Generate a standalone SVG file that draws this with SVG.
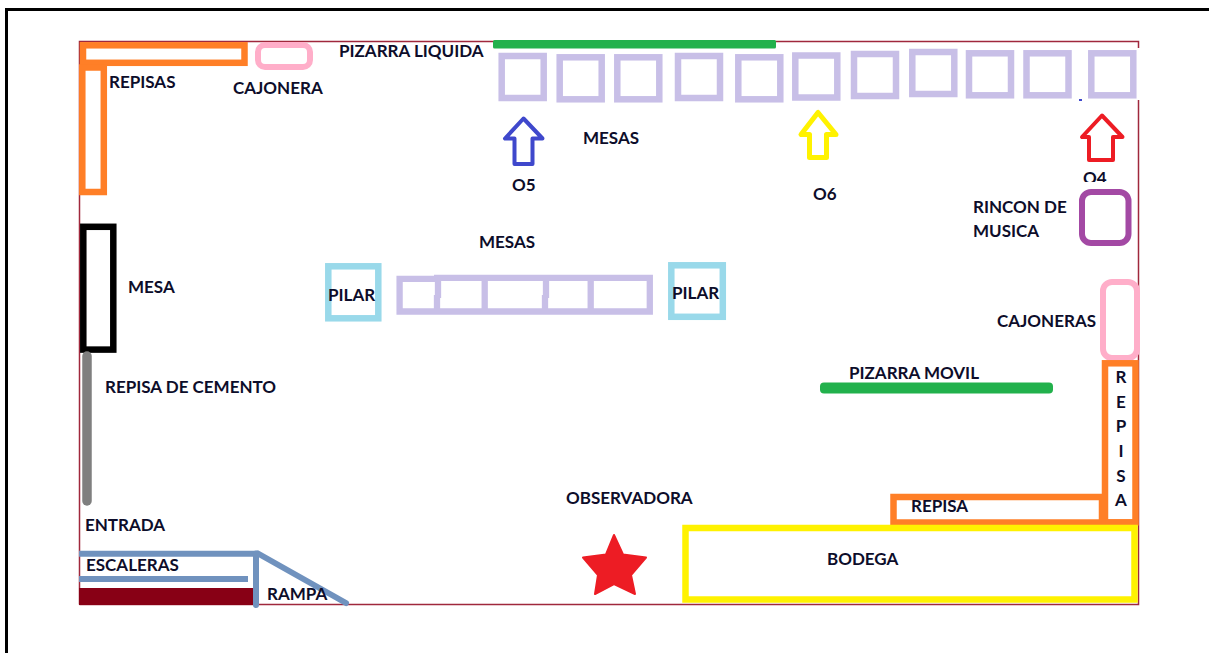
<svg xmlns="http://www.w3.org/2000/svg" width="1209" height="653" viewBox="0 0 1209 653">
<style>
text{font-family:Lato,"Liberation Sans",sans-serif;font-weight:700;font-size:17px;fill:#0d0d2a}
.o{fill:none;stroke:#ff7f27;stroke-width:6.5}
.m{fill:none;stroke:#c8bfe7;stroke-width:6.5}
.c{fill:none;stroke:#99d9ea;stroke-width:6.5}
.p{fill:none;stroke:#ffaec9;stroke-width:6}
.b{fill:none;stroke:#7092be;stroke-width:6}
.r{stroke-linecap:round}
.a{fill:none;stroke-linejoin:round}
</style>
<defs><clipPath id="clipO4"><rect x="1070" y="165" width="50" height="17"/></clipPath></defs>
<rect width="1209" height="653" fill="#fff"/>
<g id="frame"><path d="M1209 9.500H6.500V653" fill="none" stroke="#000" stroke-width="3"/></g>
<g id="room"><path d="M79.500 604.500V41.500H1138.500V48M1138.500 100V604.500H79.500" fill="none" stroke="#a0283c" stroke-width="1.500"/></g>
<g id="repisas"><rect class="o" x="83" y="45.300" width="161.500" height="17.500"/><rect class="o" x="82.300" y="67.500" width="21.500" height="124.500"/><text x="109" y="88">REPISAS</text></g>
<g id="cajonera"><rect class="p" x="258" y="45" width="52" height="22" rx="7"/><text x="233" y="94">CAJONERA</text></g>
<g id="pizarra-liquida"><rect x="493" y="40" width="283" height="8.500" rx="1.500" fill="#22b14c"/><text x="339" y="57">PIZARRA LIQUIDA</text></g>
<g id="mesas-top">
<rect class="m" x="501.700" y="56" width="42" height="42"/><rect class="m" x="559.700" y="57.300" width="42" height="42"/><rect class="m" x="617.300" y="57.300" width="42" height="42"/><rect class="m" x="678" y="56" width="42" height="42"/><rect class="m" x="738.300" y="57.300" width="42" height="42"/><rect class="m" x="795.300" y="55.500" width="42" height="42"/><rect class="m" x="854" y="54" width="42" height="42"/><rect class="m" x="912.300" y="52" width="42" height="42"/><rect class="m" x="969" y="53.300" width="42" height="42"/><rect class="m" x="1026.500" y="53.300" width="42" height="42"/><rect class="m" x="1091.300" y="53.300" width="42" height="42"/>
<rect x="1079" y="99" width="3" height="2" fill="#3f48cc"/>
<text x="583" y="144">MESAS</text></g>
<g id="o5"><path class="a" d="M523.500 118.500L505 138.500H514.500V164H532.500V138.500H542.500Z" stroke="#3f48cc" stroke-width="4"/><text x="512" y="191">O5</text></g>
<g id="o6"><path class="a" d="M818 112.500L801 134.500H809.500V157.500H826.500V134.500H836Z" stroke="#fff200" stroke-width="5"/><text x="813" y="200">O6</text></g>
<g id="o4"><path class="a" d="M1102 115.500L1082 137H1089V160H1113V137H1122.500Z" stroke="#ed1c24" stroke-width="4"/><text x="1083" y="184" clip-path="url(#clipO4)">O4</text></g>
<g id="rincon-musica"><rect x="1082" y="192" width="46.500" height="51" rx="9" fill="none" stroke="#a349a4" stroke-width="6"/><text x="973" y="213">RINCON DE</text><text x="973" y="237">MUSICA</text></g>
<g id="mesas-mid"><path d="M437 278.800H399.600V311.500H437M434 277.800H649.800V311.500H434M438 278V298M437 295V311M484.700 278V311M546 278V298M545 295V311M590.700 278V311" fill="none" stroke="#c8bfe7" stroke-width="6.300"/><text x="479" y="248">MESAS</text></g>
<g id="pilar-1"><rect class="c" x="328.300" y="266.300" width="50" height="52"/><text x="328" y="301">PILAR</text></g>
<g id="pilar-2"><rect class="c" x="671.300" y="265.300" width="51.500" height="51.500"/><text x="672" y="299">PILAR</text></g>
<g id="mesa"><rect x="83.300" y="226.800" width="30" height="122.800" fill="none" stroke="#000" stroke-width="6.500"/><text x="128" y="293">MESA</text></g>
<g id="repisa-cemento"><line x1="87" y1="356" x2="87" y2="501" stroke="#7f7f7f" stroke-width="9.500" stroke-linecap="round"/><text x="105" y="393">REPISA DE CEMENTO</text></g>
<g id="cajoneras"><rect x="1103" y="282" width="34" height="76" rx="9" fill="none" stroke="#ffaec9" stroke-width="6"/><text x="997" y="327">CAJONERAS</text></g>
<g id="pizarra-movil"><rect x="820" y="382.500" width="233" height="11" rx="4" fill="#22b14c"/><text x="849" y="379">PIZARRA MOVIL</text></g>
<g id="repisa-v"><rect class="o" x="1105" y="363.300" width="30.500" height="159"/><text text-anchor="middle"><tspan x="1121" y="383">R</tspan><tspan x="1121" y="408">E</tspan><tspan x="1121" y="432">P</tspan><tspan x="1121" y="456.500">I</tspan><tspan x="1121" y="481.500">S</tspan><tspan x="1121" y="505.500">A</tspan></text></g>
<g id="repisa-h"><rect class="o" x="893.500" y="497" width="208.500" height="25.500"/><text x="911" y="512">REPISA</text></g>
<g id="bodega"><rect x="685.500" y="528" width="449" height="71.500" fill="none" stroke="#fff200" stroke-width="6.500"/><text x="827" y="565">BODEGA</text></g>
<g id="observadora"><path d="M614 535L623 554.500L646 557.500L631 575L635 594L614 584L595 594L598 575L583 557.500L606 554.500Z" fill="#ed1c24" stroke="#ed1c24" stroke-width="2" stroke-linejoin="round"/><text x="566" y="504">OBSERVADORA</text></g>
<g id="entrada"><text x="85" y="531">ENTRADA</text></g>
<g id="escaleras"><rect x="79" y="588" width="175" height="17" fill="#880015"/><path class="b" d="M79 553.800H257"/><path class="b" d="M79 579H248"/><text x="86" y="571">ESCALERAS</text></g>
<g id="rampa"><path class="b r" d="M256 553.500V605M258 553.500L346 603"/><text x="267" y="600">RAMPA</text></g>
</svg>
